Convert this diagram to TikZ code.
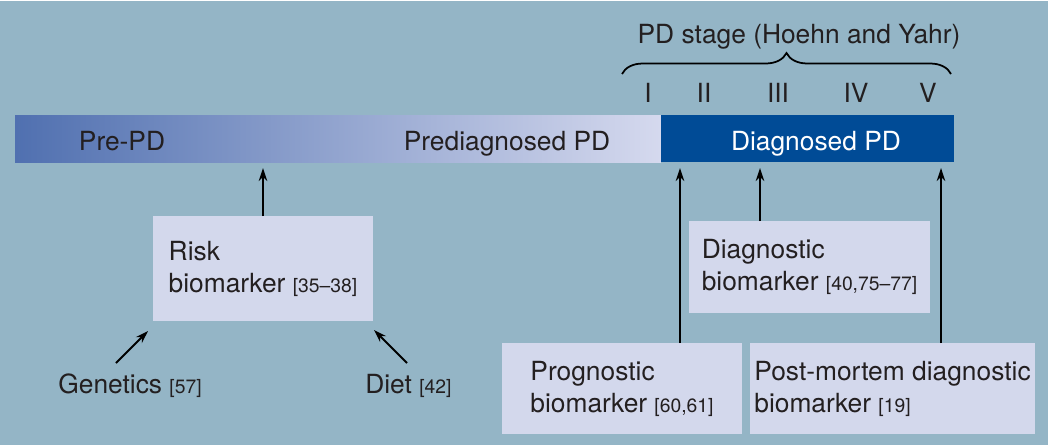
\documentclass[tikz,border=0pt]{standalone}
\usepackage{fontspec}
\setmainfont{TeX Gyre Heros}
\usetikzlibrary{arrows.meta, calc, decorations.pathreplacing}
\definecolor{bgblue}{HTML}{94B5C6}
\definecolor{boxfill}{HTML}{D3D8EC}
\definecolor{darkpd}{HTML}{004B96}
\definecolor{prepdleft}{HTML}{5070B0}
\definecolor{prepdright}{HTML}{D5D9EE}
\definecolor{inkgray}{HTML}{231F20}
\newcommand{\mainsize}{\fontsize{15}{18.2}\selectfont}
\newcommand{\citeno}[1]{{\fontsize{11}{13}\selectfont[#1]}}
\tikzstyle{bm} = [rectangle, fill=boxfill, align=left, inner sep=0pt, outer sep=0pt]
\tikzstyle{barpart} = [rectangle, minimum height=0.94cm, inner sep=0pt, outer sep=0pt]
\tikzstyle{lbl} = [anchor=base, inner sep=0pt]
\tikzstyle{arrow} = [line width=1.1pt, -{Stealth[length=0.26cm, width=0.17cm]}]
\tikzstyle{brace} = [line width=1pt, decorate, decoration={brace, amplitude=0.42cm}]

\begin{document}
\begin{tikzpicture}[x=0.02cm, y=-0.02cm, font=\mainsize, text=inkgray]

%Background
\fill[white] (0,0) rectangle (1050,447);
\fill[bgblue] (0,1) rectangle (1048,445);

%Bar
\node (prepd) [barpart, minimum width=12.92cm, left color=prepdleft, right color=prepdright] at (338,138.5) {};
\node (dxpd) [barpart, minimum width=5.86cm, fill=darkpd] at (807.5,138.5) {};
\node (prelbl) [lbl] at (122,150) {Pre-PD};
\node (predxlbl) [lbl] at (507,150) {Prediagnosed PD};
\node (dxlbl) [lbl, text=white] at (816,150) {Diagnosed PD};

%Stages
\node (stage) [lbl] at (799,43) {PD stage (Hoehn and Yahr)};
\draw [brace] (622,74) -- (951,74);
\node (s1) [lbl] at (648,102) {I};
\node (s2) [lbl] at (704,102) {II};
\node (s3) [lbl] at (778,102) {III};
\node (s4) [lbl] at (856,102) {IV};
\node (s5) [lbl] at (928,102) {V};

%Boxes
\node (risk) [bm, minimum width=4.4cm, minimum height=2.1cm] at (263,268.5) {Risk\\biomarker \citeno{35--38}};
\node (diag) [bm, minimum width=4.82cm, minimum height=1.84cm] at (809.5,267) {Diagnostic\\biomarker \citeno{40,75--77}};
\node (prog) [bm, minimum width=4.8cm, minimum height=1.82cm] at (622,388.5) {Prognostic\\biomarker \citeno{60,61}};
\node (post) [bm, minimum width=5.7cm, minimum height=1.82cm] at (892.5,388.5) {Post-mortem diagnostic\\biomarker \citeno{19}};
\node (gen) [anchor=base west, inner sep=0pt] at (58,393) {Genetics \citeno{57}};
\node (diet) [anchor=base west, inner sep=0pt] at (365,393) {Diet \citeno{42}};

%arrows
\draw [arrow, shorten >=0.12cm] (risk.north) -- (risk.north |- prepd.south);
\draw [arrow, shorten >=0.12cm] ($(prog.north)+(58,0)$) coordinate (progtop) -- (progtop |- dxpd.south);
\draw [arrow, shorten >=0.12cm] ($(diag.north)+(-49.5,0)$) coordinate (diagtop) -- (diagtop |- dxpd.south);
\draw [arrow, shorten >=0.12cm] ($(post.north)+(48.5,0)$) coordinate (posttop) -- (posttop |- dxpd.south);
\draw [arrow] ($(gen.base west)+(58,-30)$) -- ($(risk.south west)+(-5,10)$);
\draw [arrow] ($(diet.base west)+(42,-30)$) -- ($(risk.south east)+(1,9)$);

\end{tikzpicture}
\end{document}
